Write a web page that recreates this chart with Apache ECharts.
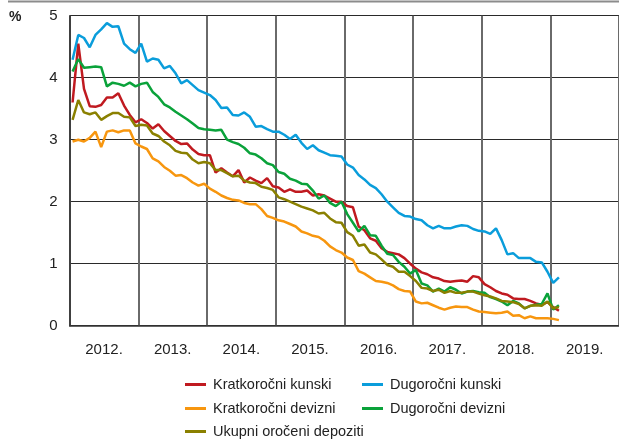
<!DOCTYPE html>
<html>
<head>
<meta charset="utf-8">
<script src="https://cdn.jsdelivr.net/npm/echarts@6/dist/echarts.min.js"></script>
<style>
  html, body { margin: 0; padding: 0; background: #fff; }
  #chart { width: 619px; height: 443px; }
</style>
</head>
<body>
<div id="chart"></div>
<script>
// Year bands on the horizontal axis; monthly observations start in January 2012
const years = ['2012.', '2013.', '2014.', '2015.', '2016.', '2017.', '2018.', '2019.'];
const yTicks = [0, 1, 2, 3, 4, 5];

// Interest rates on term deposits, % (monthly, Jan 2012 - Feb 2019)
const kratkorocniKunski = [
  3.60, 4.55, 3.82, 3.54, 3.53, 3.56, 3.68, 3.68, 3.75, 3.55, 3.40, 3.28,
  3.33, 3.27, 3.18, 3.25, 3.14, 3.06, 2.98, 2.93, 2.94, 2.84, 2.77, 2.75,
  2.75, 2.47, 2.54, 2.47, 2.41, 2.51, 2.31, 2.39, 2.34, 2.30, 2.38, 2.25,
  2.23, 2.16, 2.20, 2.16, 2.16, 2.18, 2.10, 2.12, 2.10, 2.05, 2.00, 2.00,
  1.93, 1.91, 1.60, 1.54, 1.41, 1.37, 1.25, 1.19, 1.17, 1.15, 1.09, 1.00,
  0.92, 0.86, 0.83, 0.78, 0.76, 0.72, 0.71, 0.72, 0.73, 0.71, 0.80, 0.78,
  0.67, 0.62, 0.56, 0.52, 0.50, 0.44, 0.43, 0.43, 0.40, 0.36, 0.34, 0.38,
  0.30, 0.24
];
const dugorocniKunski = [
  4.29, 4.69, 4.64, 4.49, 4.69, 4.78, 4.88, 4.82, 4.83, 4.55, 4.46, 4.40,
  4.55, 4.26, 4.31, 4.29, 4.15, 4.19, 4.07, 3.91, 3.96, 3.88, 3.80, 3.76,
  3.72, 3.64, 3.51, 3.52, 3.40, 3.39, 3.44, 3.37, 3.21, 3.22, 3.17, 3.13,
  3.13, 3.08, 3.01, 3.08, 2.95, 2.85, 2.91, 2.83, 2.79, 2.75, 2.74, 2.73,
  2.60, 2.55, 2.43, 2.36, 2.27, 2.22, 2.12, 2.00, 1.91, 1.82, 1.77, 1.76,
  1.72, 1.70, 1.62, 1.57, 1.61, 1.57, 1.57, 1.60, 1.62, 1.61, 1.56, 1.53,
  1.52, 1.48, 1.57, 1.38, 1.15, 1.17, 1.09, 1.09, 1.09, 1.03, 1.02, 0.87,
  0.69, 0.78
];
const kratkorocniDevizni = [
  2.97, 3.00, 2.97, 3.03, 3.13, 2.88, 3.13, 3.15, 3.12, 3.15, 3.15, 2.94,
  2.89, 2.85, 2.70, 2.65, 2.56, 2.50, 2.42, 2.43, 2.38, 2.31, 2.26, 2.29,
  2.21, 2.16, 2.10, 2.06, 2.03, 2.02, 1.98, 1.96, 1.96, 1.88, 1.77, 1.74,
  1.70, 1.68, 1.64, 1.60, 1.52, 1.49, 1.45, 1.43, 1.37, 1.28, 1.22, 1.18,
  1.10, 1.06, 0.88, 0.84, 0.78, 0.72, 0.71, 0.69, 0.65, 0.59, 0.56, 0.55,
  0.39, 0.36, 0.37, 0.33, 0.29, 0.26, 0.29, 0.31, 0.30, 0.30, 0.26, 0.23,
  0.22, 0.21, 0.20, 0.21, 0.23, 0.16, 0.17, 0.12, 0.15, 0.12, 0.12, 0.12,
  0.11, 0.09
];
const dugorocniDevizni = [
  4.10, 4.30, 4.16, 4.17, 4.18, 4.17, 3.86, 3.92, 3.90, 3.87, 3.92, 3.86,
  3.90, 3.92, 3.77, 3.69, 3.57, 3.52, 3.45, 3.39, 3.33, 3.26, 3.19, 3.17,
  3.16, 3.15, 3.16, 3.00, 2.96, 2.93, 2.87, 2.78, 2.76, 2.70, 2.62, 2.59,
  2.48, 2.45, 2.37, 2.34, 2.29, 2.28, 2.18, 2.05, 2.10, 1.98, 1.93, 2.00,
  1.80, 1.66, 1.52, 1.61, 1.46, 1.45, 1.29, 1.16, 1.14, 1.03, 0.95, 0.84,
  0.90, 0.68, 0.65, 0.55, 0.60, 0.55, 0.62, 0.58, 0.52, 0.55, 0.56, 0.54,
  0.53, 0.46, 0.43, 0.39, 0.33, 0.40, 0.36, 0.28, 0.32, 0.34, 0.35, 0.52,
  0.26, 0.33
];
const ukupniOroceni = [
  3.32, 3.64, 3.44, 3.41, 3.44, 3.32, 3.38, 3.43, 3.43, 3.37, 3.36, 3.22,
  3.24, 3.23, 3.10, 3.06, 2.97, 2.91, 2.82, 2.79, 2.78, 2.68, 2.62, 2.64,
  2.62, 2.51, 2.51, 2.46, 2.41, 2.42, 2.34, 2.31, 2.30, 2.24, 2.22, 2.19,
  2.07, 2.04, 2.00, 1.96, 1.92, 1.89, 1.86, 1.81, 1.82, 1.73, 1.67, 1.66,
  1.51, 1.45, 1.29, 1.31, 1.18, 1.15, 1.07, 0.98, 0.95, 0.87, 0.87, 0.80,
  0.72, 0.61, 0.60, 0.56, 0.58, 0.53, 0.56, 0.53, 0.53, 0.55, 0.55, 0.52,
  0.49, 0.47, 0.44, 0.40, 0.39, 0.38, 0.35, 0.28, 0.32, 0.33, 0.32, 0.39,
  0.28, 0.30
];

const seriesDefs = [
  { name: 'Kratkoročni kunski', data: kratkorocniKunski, color: '#c01a20' },
  { name: 'Dugoročni kunski', data: dugorocniKunski, color: '#0a9ddb' },
  { name: 'Kratkoročni devizni', data: kratkorocniDevizni, color: '#f7960f' },
  { name: 'Dugoročni devizni', data: dugorocniDevizni, color: '#0aa23a' },
  { name: 'Ukupni oročeni depoziti', data: ukupniOroceni, color: '#8a8000' }
];

const FONT = '"Liberation Sans Narrow", "Arial Narrow", "Liberation Sans", sans-serif';

// Each observation sits in the middle of its month slot (12 slots per year)
const toPoints = arr => arr.map((v, i) => [i + 0.5, v]);

const legendPos = [
  { left: 185, top: 377 },
  { left: 362, top: 377 },
  { left: 185, top: 401 },
  { left: 362, top: 401 },
  { left: 185, top: 424 }
];

const chart = echarts.init(document.getElementById('chart'), null, { renderer: 'canvas' });

chart.setOption({
  animation: false,
  backgroundColor: '#fff',
  grid: { left: 69.7, top: 15.7, right: -2.3, bottom: 117.3, containLabel: false },
  xAxis: [
    {
      type: 'value', min: 0, max: 96, interval: 12,
      axisLine: { show: true, onZero: false, lineStyle: { color: '#333', width: 1.5 } },
      axisTick: { show: false },
      axisLabel: { show: false },
      splitLine: { show: true, lineStyle: { color: '#6a6a6a', width: 2 } }
    },
    {
      type: 'category', data: years, boundaryGap: true, position: 'bottom',
      axisLine: { show: false }, axisTick: { show: false }, splitLine: { show: false },
      axisLabel: { margin: 17, color: '#222', fontSize: 15, fontFamily: FONT }
    }
  ],
  yAxis: {
    type: 'value', min: 0, max: 5, interval: 1,
    axisLine: { show: true, lineStyle: { color: '#333', width: 1.5 } },
    axisTick: { show: false },
    axisLabel: {
      margin: 12, color: '#222', fontSize: 15, fontFamily: FONT,
      formatter: v => yTicks.includes(v) ? String(v) : ''
    },
    splitLine: { show: true, lineStyle: { color: '#2a2a2a', width: 1.2 } }
  },
  legend: seriesDefs.map((s, k) => ({
    data: [s.name],
    left: legendPos[k].left, top: legendPos[k].top,
    padding: 0, itemWidth: 21, itemHeight: 3, icon: 'rect',
    textStyle: { color: '#222', fontSize: 14.5, fontFamily: FONT, padding: [0, 0, 0, 2] }
  })),
  graphic: [
    { type: 'line', shape: { x1: 8, y1: 1.5, x2: 619, y2: 1.5 }, style: { stroke: '#8c8c8c', lineWidth: 2 } },
    { type: 'text', left: 9, top: 10, style: { text: '%', font: 'bold 14px ' + FONT, fill: '#222' } }
  ],
  series: seriesDefs.map(s => ({
    name: s.name, type: 'line', data: toPoints(s.data), xAxisIndex: 0,
    symbol: 'none', color: s.color,
    lineStyle: { color: s.color, width: 2.5 }
  }))
});
</script>
</body>
</html>
